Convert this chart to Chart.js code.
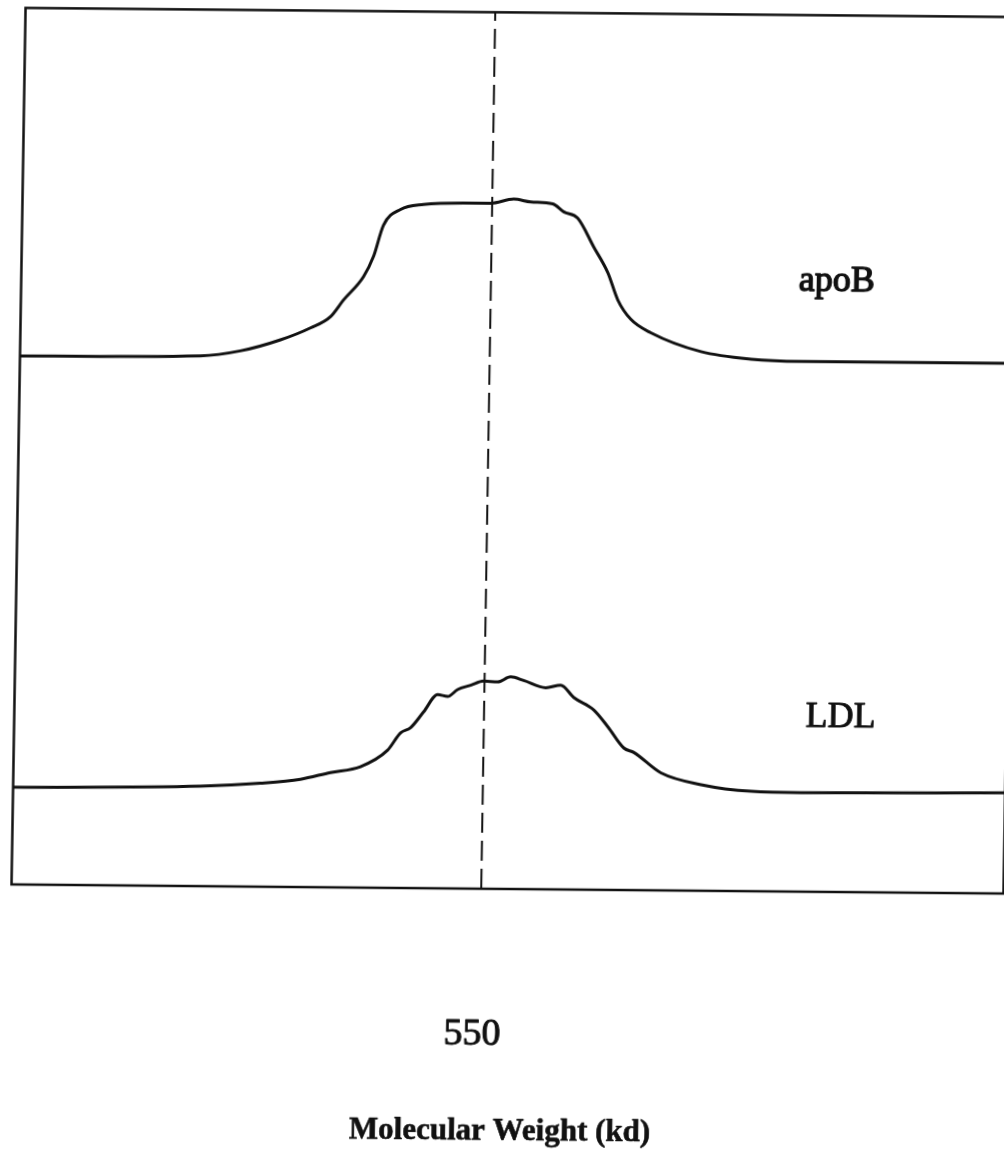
<!DOCTYPE html>
<html>
<head>
<meta charset="utf-8">
<title>apoB / LDL elution profiles</title>
<script src="https://cdn.jsdelivr.net/npm/chart.js@4.4.1/dist/chart.umd.min.js"></script>
<style>
  html, body { margin: 0; padding: 0; background: #fff; overflow: hidden; }
  #wrap {
    position: absolute; left: 0; top: 0; width: 1024px; height: 1158px;
    transform-origin: 502px 579px;
    transform: matrix(1, 0.0092, -0.016, 1, 0, 0);
  }
</style>
</head>
<body>
<div id="wrap"><canvas id="c" width="1024" height="1158"></canvas></div>
<script>
// Elution position (arbitrary units, 0-1000) and stacked detector signal (0-100)
const apobX = [0, 181.6, 221.9, 262.2, 292.3, 312.3, 325.1, 345.0, 354.7, 364.3, 381.2, 404.3, 444.7, 472.0, 495.2, 512.4, 534.6, 545.8, 559.9, 576.7, 591.2, 601.7, 615.2, 635.5, 686.3, 736.9, 787.4, 888.4, 1000];
const apobY = [60.3, 60.5, 61.1, 62.4, 63.8, 65.1, 67.0, 69.7, 72.0, 75.6, 77.4, 78.0, 78.2, 78.2, 78.7, 78.4, 78.2, 77.3, 76.6, 73.3, 70.4, 67.3, 65.1, 63.6, 61.5, 60.7, 60.5, 60.5, 60.5];

const ldlX = [0, 188.6, 249.1, 289.5, 319.6, 349.8, 376.8, 389.7, 399.7, 412.5, 426.5, 436.6, 446.6, 459.6, 472.6, 486.7, 499.8, 513.0, 535.3, 550.4, 563.8, 584.2, 598.6, 615.0, 625.2, 652.8, 693.4, 744.0, 794.5, 1000];
const ldlY = [11.1, 11.4, 11.8, 12.3, 13.1, 13.8, 15.7, 17.7, 18.3, 20.1, 22.1, 21.9, 22.7, 23.2, 23.7, 23.6, 24.2, 23.8, 23.0, 23.3, 21.9, 20.5, 18.6, 16.2, 15.7, 13.4, 12.1, 11.4, 11.3, 11.5];

// Molecular weight marker on the x axis
const markerX = 473.5;
const markerLabel = '550';
const xTitle = 'Molecular Weight (kd)';
const seriesNames = ['apoB', 'LDL'];
const yRange = [0, 100];

const toPoints = (xs, ys) => xs.map((x, i) => ({ x, y: ys[i] }));

const serif = "'Liberation Serif', 'DejaVu Serif', serif";
const ink = '#111';

// Filled text with a thin outline so the glyphs read as heavy print
function inkText(ctx, text, x, y, font, weight) {
  ctx.font = font;
  ctx.fillText(text, x, y);
  if (weight > 0) {
    ctx.lineWidth = weight;
    ctx.lineJoin = 'round';
    ctx.strokeText(text, x, y);
  }
}

// Frame, curve names, tick label and axis title
const framePlugin = {
  id: 'frame',
  afterDatasetsDraw(chart, args, opts) {
    const { ctx, chartArea: a, scales: { x, y } } = chart;
    ctx.save();
    ctx.strokeStyle = ink;
    ctx.lineWidth = 2.5;
    ctx.strokeRect(a.left, a.top, a.width, a.height);

    ctx.fillStyle = ink;
    ctx.textAlign = 'center';
    ctx.textBaseline = 'middle';
    for (const l of opts.names) {
      inkText(ctx, l.text, x.getPixelForValue(l.x), y.getPixelForValue(l.y), l.font, l.weight);
    }

    ctx.textBaseline = 'alphabetic';
    inkText(ctx, markerLabel, x.getPixelForValue(markerX) + opts.tick.dx, a.bottom + opts.tick.dy,
            opts.tick.font, opts.tick.weight);
    inkText(ctx, xTitle, (a.left + a.right) / 2 + opts.title.dx, a.bottom + opts.title.dy,
            opts.title.font, opts.title.weight);
    ctx.restore();
  }
};

new Chart(document.getElementById('c'), {
  type: 'line',
  data: {
    datasets: [
      {
        label: seriesNames[0],
        data: toPoints(apobX, apobY),
        borderColor: ink, borderWidth: 3, pointRadius: 0,
        cubicInterpolationMode: 'monotone'
      },
      {
        label: seriesNames[1],
        data: toPoints(ldlX, ldlY),
        borderColor: ink, borderWidth: 3, pointRadius: 0,
        cubicInterpolationMode: 'monotone'
      },
      {
        label: markerLabel,
        data: [{ x: markerX, y: yRange[0] }, { x: markerX, y: yRange[1] }],
        borderColor: ink, borderWidth: 2, borderDash: [20, 8], pointRadius: 0
      }
    ]
  },
  plugins: [framePlugin],
  options: {
    responsive: false,
    animation: false,
    devicePixelRatio: 1,
    layout: { padding: { left: 16.5, right: 15.5, top: 12.4, bottom: 269 } },
    scales: {
      x: { type: 'linear', min: 0, max: 1000, display: false },
      y: { type: 'linear', min: yRange[0], max: yRange[1], display: false }
    },
    plugins: {
      legend: { display: false },
      tooltip: { enabled: false },
      frame: {
        names: [
          { text: seriesNames[0], x: 822, y: 69.6, font: '36px ' + serif, weight: 1.4 },
          { text: seriesNames[1], x: 833, y: 19.9, font: '36px ' + serif, weight: 0.9 }
        ],
        tick: { font: '38px ' + serif, dx: -7, dy: 156, weight: 1.0 },
        title: { font: 'bold 31px ' + serif, dx: -4, dy: 251, weight: 0.6 }
      }
    }
  }
});
</script>
</body>
</html>
